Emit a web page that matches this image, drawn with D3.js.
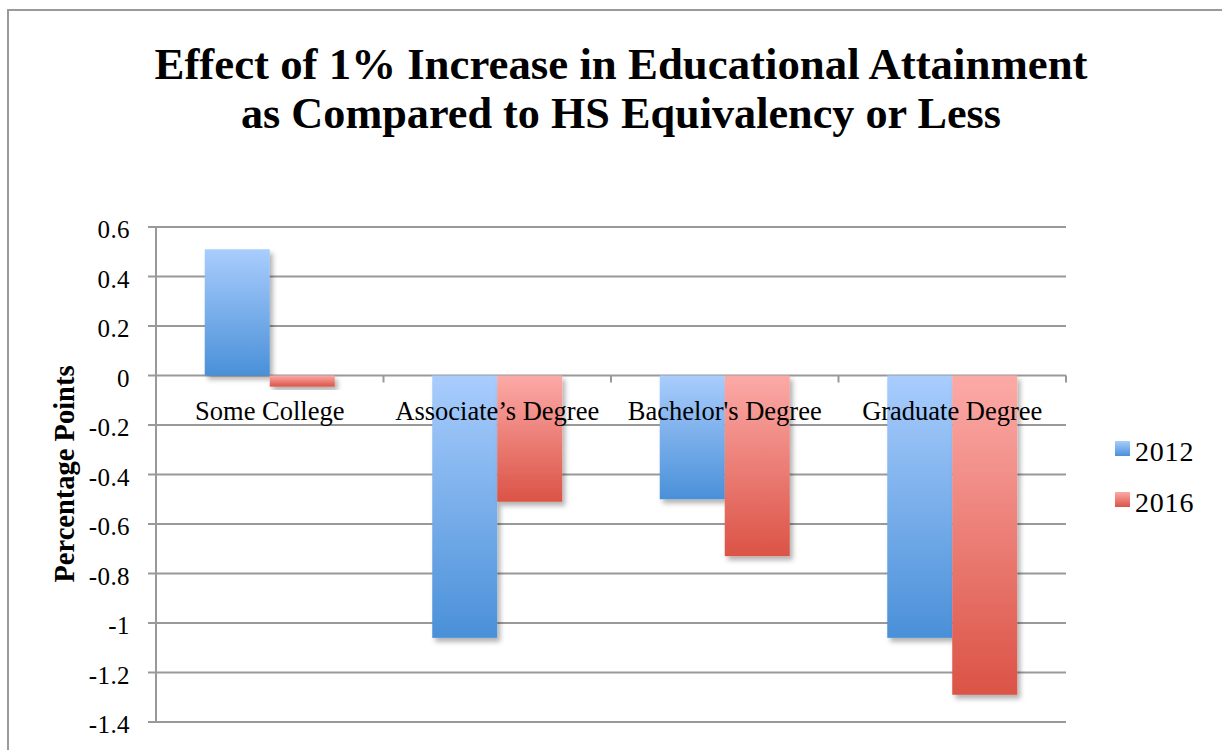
<!DOCTYPE html>
<html>
<head>
<meta charset="utf-8">
<script src="https://cdn.jsdelivr.net/npm/d3@7"></script>
<style>
  html, body { margin: 0; padding: 0; background: #fff; }
  svg { display: block; }
</style>
</head>
<body>
<svg id="chart" width="1222" height="750"></svg>
<script>
// Data
const categories = ["Some College", "Associate\u2019s Degree", "Bachelor's Degree", "Graduate Degree"];
const seriesNames = ["2012", "2016"];
const values2012 = [0.51, -1.06, -0.5, -1.06];
const values2016 = [-0.045, -0.51, -0.73, -1.29];
const yTicks = [0.6, 0.4, 0.2, 0, -0.2, -0.4, -0.6, -0.8, -1, -1.2, -1.4];

const svg = d3.select("#chart");
const serif = "'Liberation Serif', 'DejaVu Serif', serif";

// outer frame
svg.append("rect")
  .attr("x", 8).attr("y", 10)
  .attr("width", 1230).attr("height", 760)
  .attr("fill", "#fff")
  .attr("stroke", "#9a9a9a")
  .attr("stroke-width", 2);

const defs = svg.append("defs");

// gradients for each series (light top, darker bottom)
const grads = [
  { id: "g2012", top: "#a9cdfd", bottom: "#4a90d8" },
  { id: "g2016", top: "#fcaaa7", bottom: "#db5346" }
];
grads.forEach(g => {
  const lg = defs.append("linearGradient")
    .attr("id", g.id)
    .attr("x1", 0).attr("y1", 0).attr("x2", 0).attr("y2", 1);
  lg.append("stop").attr("offset", "0%").attr("stop-color", g.top);
  lg.append("stop").attr("offset", "100%").attr("stop-color", g.bottom);
});

defs.append("filter")
  .attr("id", "shadow")
  .attr("x", "-20%").attr("y", "-20%")
  .attr("width", "150%").attr("height", "150%")
  .append("feDropShadow")
  .attr("dx", 3).attr("dy", 4)
  .attr("stdDeviation", 2.5)
  .attr("flood-color", "#000")
  .attr("flood-opacity", 0.3);

// Plot area
const plotLeft = 156, plotRight = 1066, plotTop = 227, plotBottom = 722;

const y = d3.scaleLinear()
  .domain([-1.4, 0.6])
  .range([plotBottom, plotTop]);

const x0 = d3.scaleBand()
  .domain(categories)
  .range([plotLeft, plotRight])
  .paddingInner(0)
  .paddingOuter(0);

// Excel-style gap width 150%: band = 2 bars + 1.5 bar
const barW = x0.bandwidth() / 3.5;
const x1 = d3.scaleBand()
  .domain(seriesNames)
  .range([barW * 0.75, barW * 2.75]);

// Gridlines
svg.append("g")
  .selectAll("line")
  .data(yTicks)
  .join("line")
  .attr("x1", plotLeft - 8)
  .attr("x2", plotRight)
  .attr("y1", d => y(d))
  .attr("y2", d => y(d))
  .attr("stroke", "#999")
  .attr("stroke-width", 2);

// Y axis line
svg.append("line")
  .attr("x1", plotLeft).attr("x2", plotLeft)
  .attr("y1", plotTop).attr("y2", plotBottom)
  .attr("stroke", "#999")
  .attr("stroke-width", 2);

// Category tick marks below zero line
const catTicks = categories.map(c => x0(c)).concat([plotRight]);
svg.append("g")
  .selectAll("line")
  .data(catTicks.slice(1))
  .join("line")
  .attr("x1", d => d).attr("x2", d => d)
  .attr("y1", y(0)).attr("y2", y(0) + 7)
  .attr("stroke", "#999")
  .attr("stroke-width", 2);

// Y tick labels
svg.append("g")
  .selectAll("text")
  .data(yTicks)
  .join("text")
  .attr("x", 130)
  .attr("y", d => y(d) + 11)
  .attr("text-anchor", "end")
  .attr("font-family", serif)
  .attr("font-size", 25)
  .attr("letter-spacing", 0.4)
  .attr("fill", "#000")
  .text(d => String(d));

// Bars
const rows = categories.map((c, i) => ({
  cat: c,
  vals: [
    { s: "2012", v: values2012[i] },
    { s: "2016", v: values2016[i] }
  ]
}));

const groups = svg.append("g")
  .selectAll("g")
  .data(rows)
  .join("g")
  .attr("transform", d => `translate(${x0(d.cat)},0)`);

groups.selectAll("rect")
  .data(d => d.vals)
  .join("rect")
  .attr("x", d => x1(d.s))
  .attr("width", x1.bandwidth())
  .attr("y", d => Math.min(y(d.v), y(0)))
  .attr("height", d => Math.abs(y(d.v) - y(0)))
  .attr("fill", d => d.s === "2012" ? "url(#g2012)" : "url(#g2016)")
  .attr("filter", "url(#shadow)");

// Category labels (drawn over bars)
svg.append("g")
  .selectAll("text")
  .data(categories)
  .join("text")
  .attr("x", d => x0(d) + x0.bandwidth() / 2)
  .attr("y", y(0) + 44)
  .attr("text-anchor", "middle")
  .attr("font-family", serif)
  .attr("font-size", 26.5)
  .attr("fill", "#000")
  .text(d => d);

// Y axis title
svg.append("text")
  .attr("transform", "translate(74,474) rotate(-90)")
  .attr("text-anchor", "middle")
  .attr("font-family", serif)
  .attr("font-weight", "bold")
  .attr("font-size", 28.5)
  .text("Percentage Points");

// Legend
const legend = svg.append("g")
  .selectAll("g")
  .data(seriesNames)
  .join("g")
  .attr("transform", (d, i) => `translate(1115,${441 + i * 51})`);

legend.append("rect")
  .attr("width", 15).attr("height", 15)
  .attr("fill", d => d === "2012" ? "url(#g2012)" : "url(#g2016)");

legend.append("text")
  .attr("x", 20).attr("y", 20)
  .attr("font-family", serif)
  .attr("font-size", 28)
  .attr("letter-spacing", 0.8)
  .text(d => d);

// Title
const titleLines = [
  { text: "Effect of 1% Increase in Educational Attainment", y: 79, w: 933 },
  { text: "as Compared to HS Equivalency or Less", y: 128, w: 760 }
];
svg.append("g")
  .selectAll("text")
  .data(titleLines)
  .join("text")
  .attr("x", 621)
  .attr("y", d => d.y)
  .attr("text-anchor", "middle")
  .attr("font-family", serif)
  .attr("font-weight", "bold")
  .attr("font-size", 45)
  .attr("textLength", d => d.w)
  .attr("lengthAdjust", "spacingAndGlyphs")
  .text(d => d.text);
</script>
</body>
</html>
